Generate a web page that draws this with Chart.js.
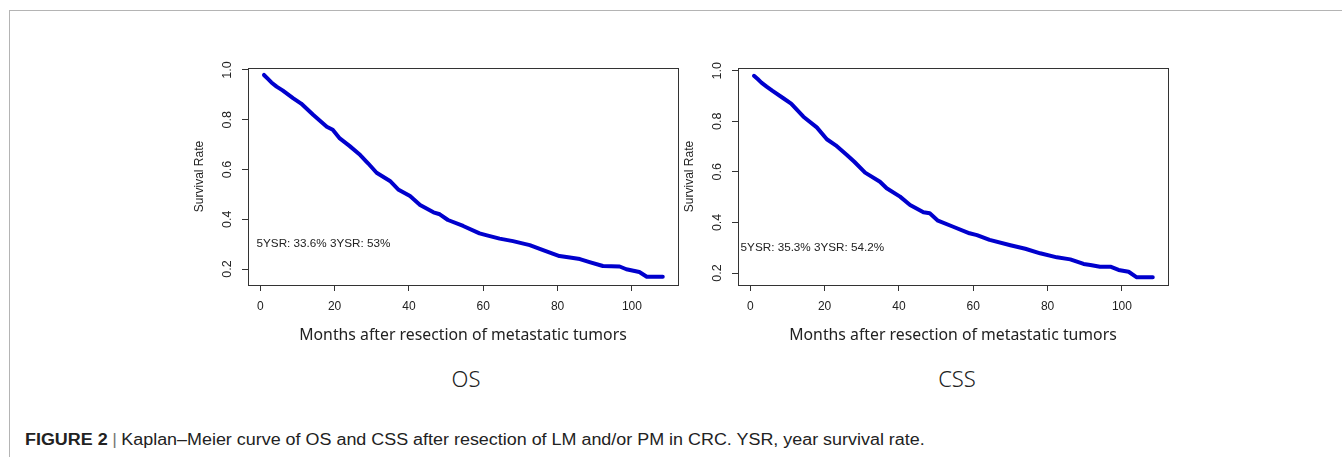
<!DOCTYPE html>
<html>
<head>
<meta charset="utf-8">
<script src="https://cdn.jsdelivr.net/npm/chart.js@4.4.1/dist/chart.umd.min.js"></script>
<style>
  html, body { margin: 0; padding: 0; background: #fff; }
  body { width: 1342px; height: 457px; position: relative; overflow: hidden; font-family: "Liberation Sans", Arial, sans-serif; }
  .frame { position: absolute; left: 9px; top: 10px; right: -2px; bottom: -2px; border-top: 1.5px solid #b4b4b4; border-left: 1.5px solid #b4b4b4; }
  canvas { position: absolute; }
  .panel { position: absolute; font-family: "Noto Sans", sans-serif; font-size: 22px; font-weight: 300; color: #222; transform: translate(-50%, -50%); }
  .caption { position: absolute; left: 25px; top: 431px; font-size: 16px; color: #222; white-space: nowrap; transform: scaleX(1.12); transform-origin: 0 0; }
  .caption b { font-weight: bold; }
  .caption .bar { color: #777; padding: 0 4px; }
</style>
</head>
<body>
<div class="frame"></div>
<canvas id="osChart" width="520" height="310" style="left:180px; top:50px;"></canvas>
<canvas id="cssChart" width="520" height="310" style="left:670px; top:50px;"></canvas>
<div class="panel" style="left:466px; top:378px;">OS</div>
<div class="panel" style="left:957px; top:378px;">CSS</div>
<div class="caption"><b>FIGURE 2</b><span class="bar">|</span>Kaplan–Meier curve of OS and CSS after resection of LM and/or PM in CRC. YSR, year survival rate.</div>

<script>
// Kaplan-Meier curves, values
const osMonths = [1, 2, 3, 4.4, 6, 8.9, 11, 14.3, 17.9, 19.5, 21.4, 24, 26.9, 29, 31.3, 34.9, 37.1, 40.3, 43, 46.6, 48.3, 50.5, 54.6, 59, 61, 64.4, 68, 72.5, 76.1, 80.5, 83.3, 86, 88.6, 92.2, 96.7, 98.5, 102, 104, 108.3];
const osSurv = [0.98, 0.965, 0.95, 0.933, 0.918, 0.886, 0.865, 0.819, 0.772, 0.76, 0.725, 0.695, 0.658, 0.625, 0.587, 0.554, 0.52, 0.493, 0.457, 0.428, 0.42, 0.397, 0.373, 0.343, 0.335, 0.322, 0.312, 0.296, 0.276, 0.252, 0.246, 0.24, 0.228, 0.212, 0.21, 0.199, 0.188, 0.169, 0.169];

const cssMonths = [1, 2, 3, 4.4, 6, 8.9, 11, 14.3, 17.9, 20.6, 23, 26, 28, 30.9, 34.9, 36.7, 40.3, 43, 46.6, 48.3, 50.5, 54.6, 59, 61, 64.4, 70, 74, 78, 82.5, 86.1, 89.7, 91.5, 94.1, 96.9, 99.1, 101.8, 104, 108.3];
const cssSurv = [0.98, 0.967, 0.953, 0.937, 0.92, 0.891, 0.87, 0.818, 0.776, 0.729, 0.705, 0.667, 0.64, 0.597, 0.561, 0.535, 0.502, 0.469, 0.44, 0.436, 0.407, 0.383, 0.357, 0.35, 0.331, 0.31, 0.296, 0.278, 0.262, 0.254, 0.236, 0.232, 0.225, 0.225, 0.212, 0.205, 0.183, 0.183];

const xTicks = [0, 20, 40, 60, 80, 100];
const yTicks = [0.2, 0.4, 0.6, 0.8, 1.0];

const osNote = '5YSR: 33.6% 3YSR: 53%';
const cssNote = '5YSR: 35.3% 3YSR: 54.2%';
const osNoteAt = [-1.0, 0.30];
const cssNoteAt = [-2.6, 0.30];

const xTitle = 'Months after resection of metastatic tumors';
const yTitle = 'Survival Rate';

// R-style box, rotated y labels and the survival text
const rStyle = {
    id: 'rStyle',
    afterDraw(chart, args, opts) {
        const { ctx, chartArea: a, scales } = chart;
        ctx.save();
        ctx.strokeStyle = '#333';
        ctx.lineWidth = 1;
        ctx.strokeRect(Math.round(a.left) + 0.5, Math.round(a.top) + 0.5, Math.round(a.right - a.left), Math.round(a.bottom - a.top));

        ctx.fillStyle = '#222';
        ctx.font = '12.5px "Liberation Sans", Arial, sans-serif';
        ctx.textAlign = 'center';
        ctx.textBaseline = 'middle';
        yTicks.forEach(v => {
            const py = scales.y.getPixelForValue(v);
            ctx.save();
            ctx.translate(a.left - 20, py);
            ctx.rotate(-Math.PI / 2);
            ctx.fillText(v.toFixed(1), 0, 0);
            ctx.restore();
        });

        ctx.font = '11.7px "Liberation Sans", Arial, sans-serif';
        ctx.textAlign = 'left';
        ctx.fillText(opts.note, scales.x.getPixelForValue(opts.noteAt[0]), scales.y.getPixelForValue(opts.noteAt[1]));
        ctx.restore();
    }
};

function makeChart(id, months, surv, yMin, yMax, note, noteAt) {
    const points = months.map((m, i) => ({ x: m, y: surv[i] }));
    return new Chart(document.getElementById(id), {
        type: 'line',
        data: {
            datasets: [{
                data: points,
                borderColor: '#0000cd',
                borderWidth: 4,
                borderCapStyle: 'round',
                borderJoinStyle: 'round',
                pointRadius: 0,
                tension: 0,
                fill: false
            }]
        },
        options: {
            responsive: false,
            animation: false,
            devicePixelRatio: 1,
            layout: { padding: { top: 18, left: 0, right: 22, bottom: 0 } },
            plugins: {
                legend: { display: false },
                tooltip: { enabled: false },
                rStyle: { note: note, noteAt: noteAt }
            },
            scales: {
                x: {
                    type: 'linear',
                    min: -3.3,
                    max: 112.4,
                    afterBuildTicks: s => { s.ticks = xTicks.map(v => ({ value: v })); },
                    afterFit: s => { s.height = 75; },
                    grid: { drawOnChartArea: false, drawTicks: true, tickLength: 6, tickColor: '#333', tickWidth: 1 },
                    border: { display: false },
                    ticks: {
                        color: '#222',
                        padding: 8,
                        maxRotation: 0,
                        font: { family: '"Liberation Sans", Arial, sans-serif', size: 12 }
                    },
                    title: {
                        display: true,
                        text: xTitle,
                        color: '#222',
                        font: { family: '"Noto Sans", sans-serif', size: 15.8 },
                        padding: { top: 0, bottom: 15 }
                    }
                },
                y: {
                    type: 'linear',
                    min: yMin,
                    max: yMax,
                    afterBuildTicks: s => { s.ticks = yTicks.map(v => ({ value: v })); },
                    afterFit: s => { s.width = 68; },
                    grid: { drawOnChartArea: false, drawTicks: true, tickLength: 6, tickColor: '#333', tickWidth: 1 },
                    border: { display: false },
                    ticks: { display: false },
                    title: {
                        display: true,
                        text: yTitle,
                        color: '#222',
                        font: { family: '"Liberation Sans", Arial, sans-serif', size: 12 },
                        padding: { top: 12, bottom: 0 }
                    }
                }
            }
        },
        plugins: [rStyle]
    });
}

makeChart('osChart', osMonths, osSurv, 0.1357, 1.008, osNote, osNoteAt);
makeChart('cssChart', cssMonths, cssSurv, 0.1526, 1.0107, cssNote, cssNoteAt);
</script>
</body>
</html>
